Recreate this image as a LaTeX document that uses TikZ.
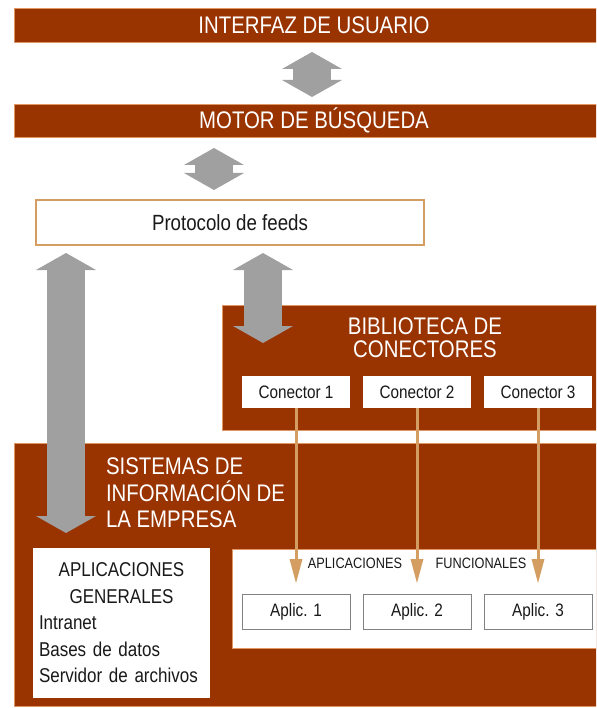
\documentclass[tikz,border=0pt]{standalone}
\usepackage{fontspec}
\setmainfont{Liberation Sans}[FakeStretch=0.85]
\usetikzlibrary{arrows.meta,positioning,calc}
\definecolor{brick}{RGB}{153,51,0}
\definecolor{barline}{RGB}{222,150,100}
\definecolor{blockgray}{RGB}{160,160,160}
\definecolor{feedtan}{RGB}{212,158,98}
\definecolor{boxline}{RGB}{130,130,130}
\definecolor{inktext}{RGB}{25,25,25}

\begin{document}
\begin{tikzpicture}
[x=1pt,y=-1pt,%
  every node/.style={inner sep=0pt,outer sep=0pt},%
  layer/.style={rectangle,fill=brick,draw=barline,line width=0.8pt},%
  heading/.style={text=white,font=\fontsize{24}{26}\selectfont},%
  whitebox/.style={rectangle,fill=white,text=inktext},%
  conbox/.style={whitebox,minimum width=108pt,minimum height=32pt,font=\fontsize{18}{20}\selectfont},%
  aplbox/.style={whitebox,draw=boxline,line width=0.8pt,minimum width=108pt,minimum height=35pt,font=\fontsize{18}{20}\selectfont},%
  blockarrow/.style={draw=blockgray,line width=38pt,
    {Triangle[width=60pt,length=17pt,line width=0pt]}-{Triangle[width=60pt,length=17pt,line width=0pt]}},%
  feedarrow/.style={draw=feedtan,line width=3pt,-{Triangle[width=13pt,length=24pt,line width=0pt]}}]
\fill[white] (0,0) rectangle (596,708);
\clip (0,0) rectangle (596,708);
% top layers
\node[layer,heading,minimum width=600pt,minimum height=34pt] (ui) at (314,25) {INTERFAZ DE USUARIO};
\node[layer,heading,minimum width=600pt,minimum height=33pt] (motor) at (314,120.5) {MOTOR DE BÚSQUEDA};
\node[whitebox,draw=feedtan,line width=1.2pt,minimum width=388pt,minimum height=45pt,
  font=\fontsize{22}{24}\selectfont] (proto) at (230,222.5) {Protocolo de feeds};
% connector library
\node[layer,minimum width=406pt,minimum height=125pt] (bib) at (425,367.5) {};
\node[heading,anchor=north,align=center,font=\fontsize{24}{23}\selectfont] (bibtitle)
  at ($(bib.north)+(0,13)$) {BIBLIOTECA DE\\CONECTORES};
\node[conbox] (con1) at (296,392) {Conector 1};
\node[conbox,right=13pt of con1] (con2) {Conector 2};
\node[conbox,right=13pt of con2] (con3) {Conector 3};
% enterprise systems
\node[layer,minimum width=600pt,minimum height=263pt] (sist) at (314,574.5) {};
\node[heading,anchor=north west,align=left,font=\fontsize{24}{26.5}\selectfont] (sisttitle)
  at ($(sist.north west)+(92,15)$) {SISTEMAS DE\\INFORMACIÓN DE\\LA EMPRESA};
\node[whitebox,minimum width=177pt,minimum height=150pt,text width=165pt,align=left,
  font=\fontsize{20}{26.5}\selectfont] (appgen) at (121.5,623)
  {\hfill APLICACIONES\hfill\null\\ \hfill GENERALES\hfill\null\\ Intranet\\ Bases de datos\\ Servidor de archivos};
\node[whitebox,draw=barline,line width=0.8pt,minimum width=382pt,minimum height=99pt] (func) at (423,598.5) {};
\node[text=inktext,font=\fontsize{15}{17}\selectfont] (funclabA) at (355,563) {APLICACIONES};
\node[text=inktext,font=\fontsize{15}{17}\selectfont] (funclabB) at (481,563) {FUNCIONALES};
\node[aplbox] (apl1) at (296,611.5) {Aplic. 1};
\node[aplbox,right=13pt of apl1] (apl2) {Aplic. 2};
\node[aplbox,right=13pt of apl2] (apl3) {Aplic. 3};
% block arrows
\coordinate (leftcol) at (66,0);
\coordinate (midcol) at (263,0);
\draw[blockarrow] ($(ui.south)+(-2,10)$) -- ($(motor.north)+(-2,-7)$);
\draw[blockarrow] ($(motor.south)+(-100,11)$) -- ($(motor.south |- proto.north)+(-100,-10)$);
\draw[blockarrow] ($(leftcol |- proto.south)+(0,8)$) -- ($(leftcol |- appgen.north)+(0,-15)$);
\draw[blockarrow] ($(midcol |- proto.south)+(0,8)$) -- ($(midcol |- bib.north)+(0,38)$);
% feeds
\foreach \i in {1,2,3}
  \draw[feedarrow] (con\i.south) -- ($(apl\i.north)+(0,-11)$);
\end{tikzpicture}
\end{document}
